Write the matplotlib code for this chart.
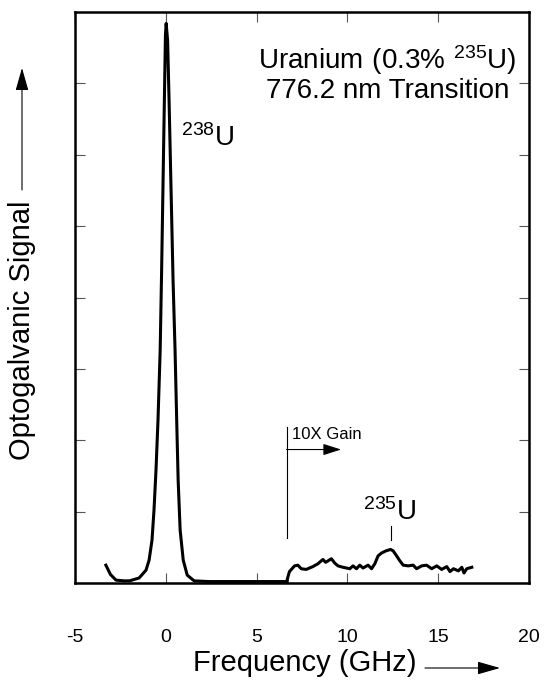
import matplotlib
matplotlib.use("Agg")
import matplotlib.pyplot as plt

plt.rcParams['font.family'] = ['Liberation Sans', 'DejaVu Sans']
plt.rcParams['mathtext.fontset'] = 'custom'
plt.rcParams['mathtext.rm'] = 'Liberation Sans'

# 238U main peak (GHz, signal units)
peak_x = [-3.30, -3.05, -2.74, -2.30, -2.00, -1.47, -1.09, -0.92, -0.76, -0.65, -0.54,
          -0.43, -0.31, -0.23, -0.15, -0.07, -0.02, 0.02, 0.10, 0.18, 0.29, 0.40,
          0.51, 0.60, 0.68, 0.79, 0.96, 1.18, 1.56, 2.40, 4.00, 5.50, 6.68]
peak_y = [0.25, 0.12, 0.04, 0.03, 0.03, 0.07, 0.18, 0.32, 0.60, 1.02, 1.58,
          2.28, 3.26, 4.38, 5.64, 6.90, 7.67, 7.84, 7.60, 6.76, 5.50, 4.24,
          3.26, 2.28, 1.44, 0.74, 0.32, 0.11, 0.03, 0.02, 0.02, 0.02, 0.02]

# 10X gain section with 235U peak
gain_x = [6.68, 6.74, 6.81, 7.09, 7.27, 7.46, 7.73, 8.10, 8.38, 8.65, 8.80, 8.93, 9.12, 9.30,
          9.48, 9.76, 10.13, 10.31, 10.50, 10.68, 10.86, 11.14, 11.33, 11.51, 11.69,
          11.88, 12.12, 12.38, 12.52, 12.71, 12.89, 13.07, 13.35, 13.62, 13.81, 14.09,
          14.36, 14.64, 14.92, 15.19, 15.47, 15.65, 15.84, 16.11, 16.30, 16.42, 16.57, 16.85]
gain_y = [0.04, 0.10, 0.16, 0.24, 0.25, 0.20, 0.19, 0.23, 0.27, 0.33, 0.29, 0.31, 0.34, 0.28,
          0.24, 0.22, 0.20, 0.24, 0.20, 0.25, 0.21, 0.25, 0.20, 0.27, 0.38,
          0.42, 0.45, 0.47, 0.45, 0.38, 0.31, 0.25, 0.24, 0.25, 0.20, 0.24,
          0.25, 0.20, 0.24, 0.19, 0.23, 0.16, 0.20, 0.17, 0.22, 0.14, 0.20, 0.22]

x_ticks = [-5, 0, 5, 10, 15, 20]
y_ticks = [1, 2, 3, 4, 5, 6, 7]

fig = plt.figure(figsize=(5.44, 6.81), dpi=100)
ax = fig.add_axes([75/544, 1-583/681, (529-75)/544, (583-12)/681])

ax.plot(peak_x, peak_y, color='black', lw=2.2, solid_joinstyle='round')
ax.plot(gain_x, gain_y, color='black', lw=2.2, solid_joinstyle='round')

ax.set_xlim(-5, 20)
ax.set_ylim(0, 8)
ax.set_xticks(x_ticks)
ax.set_xticklabels([str(v) for v in x_ticks])
ax.set_yticks(y_ticks)
ax.set_yticklabels([])
ax.tick_params(axis='both', direction='in', length=7, width=0.8, color='#555555',
               top=True, right=True, labelsize=14)
ax.tick_params(axis='x', pad=33)
for s in ax.spines.values():
    s.set_linewidth(1.8)

# annotations
ax.text(12.2, 7.2, r'$\mathregular{Uranium\ (0.3\%\ ^{235}U)}$', ha='center', va='baseline', fontsize=20)
ax.text(12.2, 6.79, '776.2 nm Transition', ha='center', va='baseline', fontsize=20)
ax.text(0.85, 6.12, r'$\mathregular{^{238}U}$', ha='left', va='baseline', fontsize=20)
ax.text(10.85, 0.88, r'$\mathregular{^{235}U}$', ha='left', va='baseline', fontsize=20)
ax.plot([12.38, 12.38], [0.60, 0.80], color='black', lw=0.8)

ax.plot([6.65, 6.65], [0.63, 2.18], color='black', lw=0.8)
ax.annotate('', xy=(9.65, 1.87), xytext=(6.65, 1.87),
            arrowprops=dict(arrowstyle='-|>,head_length=1.1,head_width=0.35', color='black', lw=0.8,
                            shrinkA=0, shrinkB=0))
ax.text(6.95, 2.02, '10X Gain', ha='left', va='baseline', fontsize=12)

# axis labels with arrows
fig.text(305/544, 1-663/681, 'Frequency (GHz)', ha='center', va='center', fontsize=21)
ax.annotate('', xy=(500/544, 1-668/681), xytext=(425/544, 1-668/681),
            xycoords='figure fraction', textcoords='figure fraction', annotation_clip=False,
            arrowprops=dict(arrowstyle='-|>,head_length=1.4,head_width=0.4', color='black', lw=0.8,
                            shrinkA=0, shrinkB=0))
fig.text(22/544, 1-330/681, 'Optogalvanic Signal', ha='center', va='center', rotation=90, fontsize=21)
ax.annotate('', xy=(22/544, 1-68/681), xytext=(22/544, 1-190/681),
            xycoords='figure fraction', textcoords='figure fraction', annotation_clip=False,
            arrowprops=dict(arrowstyle='-|>,head_length=1.4,head_width=0.4', color='black', lw=0.8,
                            shrinkA=0, shrinkB=0))

fig.savefig('out.png', dpi=100, facecolor='white')
